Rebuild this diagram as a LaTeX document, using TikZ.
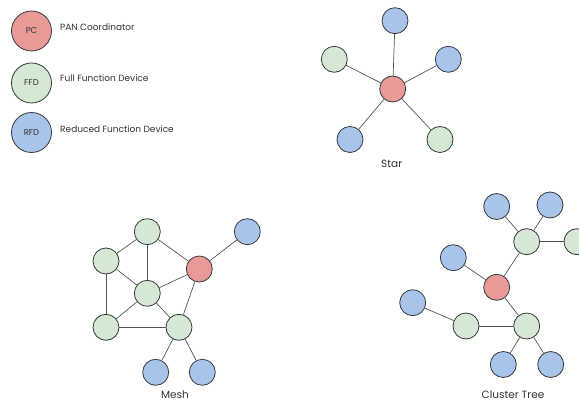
\documentclass[tikz,border=0pt]{standalone}
\usepackage{fontspec}
\setmainfont{Poppins}
\definecolor{pcfill}{HTML}{EA9999}
\definecolor{ffdfill}{HTML}{D5E8D4}
\definecolor{rfdfill}{HTML}{A9C4EB}
\definecolor{strokec}{HTML}{36393D}
\definecolor{edgec}{HTML}{555555}
\definecolor{textc}{HTML}{333333}
\tikzset{
  dev/.style={circle, draw=strokec, line width=0.8pt, minimum size=26pt, inner sep=0pt},
  pc/.style={dev, fill=pcfill},
  ffd/.style={dev, fill=ffdfill},
  rfd/.style={dev, fill=rfdfill},
  legdev/.style={minimum size=40pt, font=\fontsize{8.5}{10}\selectfont, text=textc},
  legtext/.style={anchor=west, font=\fontsize{9}{11}\selectfont, text=textc, inner sep=0pt},
  caption/.style={font=\fontsize{10.5}{12}\selectfont, text=textc, inner sep=0pt},
  link/.style={draw=edgec, line width=0.7pt}
}
\begin{document}
\begin{tikzpicture}[x=1pt,y=-1pt]
\useasboundingbox (0,0) rectangle (579,403);
% Legend
\node[pc, legdev] (lpc) at (31.5,31) {PC};
\node[ffd, legdev] (lffd) at (31.5,83) {FFD};
\node[rfd, legdev] (lrfd) at (31.5,132.5) {RFD};
\node[legtext] (tpc) at (60,27) {PAN Coordinator};
\node[legtext] (tffd) at (60,78) {Full Function Device};
\node[legtext] (trfd) at (60,129) {Reduced Function Device};

% Star
\node[pc] (sc) at (392.7,89) {};
\node[rfd] (st) at (395,20.7) {};
\node[ffd] (sl) at (334.3,59.3) {};
\node[rfd] (sr) at (448.3,59.3) {};
\node[rfd] (sbl) at (350,139.5) {};
\node[ffd] (sbr) at (440,139.5) {};
\node[caption] (starlab) at (391.7,164) {Star};
\foreach \n in {st,sl,sr,sbl,sbr} \draw[link] (sc) -- (\n);

% Mesh
\node[ffd] (mt) at (147.3,231.7) {};
\node[ffd] (ml) at (106,261) {};
\node[pc] (mr) at (199.3,269) {};
\node[rfd] (mtr) at (247.3,231.7) {};
\node[ffd] (mc) at (147.3,293.3) {};
\node[ffd] (mbl) at (106,327.3) {};
\node[ffd] (mbr) at (179,327.3) {};
\node[rfd] (mb1) at (155.7,372.3) {};
\node[rfd] (mb2) at (202.3,372.3) {};
\node[caption] (meshlab) at (175,394.5) {Mesh};
\draw[link] (mt) -- (ml);
\draw[link] (mt) -- (mc);
\draw[link] (mt) -- (mr);
\draw[link] (ml) -- (mc);
\draw[link] (ml) -- (mbl);
\draw[link] (mc) -- (mr);
\draw[link] (mc) -- (mbl);
\draw[link] (mc) -- (mbr);
\draw[link] (mbl) -- (mbr);
\draw[link] (mr) -- (mbr);
\draw[link] (mr) -- (mtr);
\draw[link] (mbr) -- (mb1);
\draw[link] (mbr) -- (mb2);

% Cluster tree
\node[rfd] (ctl) at (496.7,206.5) {};
\node[rfd] (ctr) at (550,205) {};
\node[ffd] (cgu) at (526.7,241.7) {};
\node[ffd] (cgfr) at (577,241.7) {};
\node[rfd] (cbl) at (453.3,257.7) {};
\node[pc] (cr) at (496.7,287.3) {};
\node[rfd] (cbfl) at (412.7,302.7) {};
\node[ffd] (cgm) at (466,326) {};
\node[ffd] (cgl) at (526.7,326) {};
\node[rfd] (cb1) at (503.3,364.5) {};
\node[rfd] (cb2) at (550.7,364.5) {};
\node[caption] (ctlab) at (513,395) {Cluster Tree};
\draw[link] (cr) -- (cbl);
\draw[link] (cr) -- (cgu);
\draw[link] (cr) -- (cgl);
\draw[link] (cgu) -- (ctl);
\draw[link] (cgu) -- (ctr);
\draw[link] (cgu) -- (cgfr);
\draw[link] (cgl) -- (cgm);
\draw[link] (cgm) -- (cbfl);
\draw[link] (cgl) -- (cb1);
\draw[link] (cgl) -- (cb2);
\end{tikzpicture}
\end{document}
